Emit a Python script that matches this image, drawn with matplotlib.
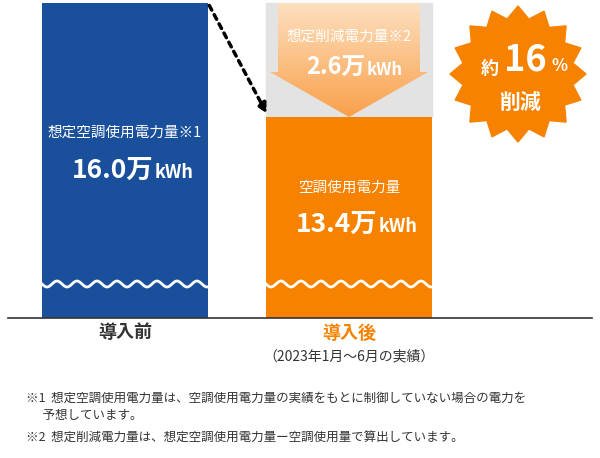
import numpy as np
import matplotlib
matplotlib.use('Agg')
import matplotlib.pyplot as plt
from matplotlib.patches import Polygon, Rectangle

plt.rcParams['font.family'] = ['Noto Sans CJK JP', 'DejaVu Sans']

# data
labels = ['導入前', '導入後']
values = [16.0, 13.4]          # 万kWh
reduction = 2.6                 # 万kWh
pct = 16
note_period = '（2023年1月～6月の実績）'
notes = ['※1  想定空調使用電力量は、空調使用電力量の実績をもとに制御していない場合の電力を',
         '      予想しています。',
         '※2  想定削減電力量は、想定空調使用電力量ー空調使用量で算出しています。']

blue = '#1a4f9c'
orange = '#f78200'

fig = plt.figure(figsize=(6, 4.58), dpi=100)
ax = fig.add_axes([0, 0, 1, 1])
ax.set_xlim(0, 600)
ax.set_ylim(458, 0)
ax.axis('off')

base = 318
# visual heights (infographic not to scale)
tops = [3, 117]
xs = [125, 349]
w = 166
ax.bar(xs, [base - t for t in tops], bottom=tops, width=w,
       color=[blue, orange], zorder=2)
# gray "expected" area behind the after bar
ax.add_patch(Rectangle((xs[1] - w / 2, 3), w, tops[1] - 3, color='#e3e3e3', zorder=1))
ax.plot([8, 592], [base, base], color='#333333', lw=1.2, zorder=3)

# wave lines
for x in xs:
    xx = np.linspace(x - w / 2, x + w / 2, 200)
    ax.plot(xx, 284 + 3 * np.sin((xx - xx[0]) / 20 * 2 * np.pi), color='white', lw=2, zorder=3)

# gradient arrow
gx0, gx1 = xs[1] - w / 2, xs[1] + w / 2
arrow = Polygon([(gx0 + 12, 3), (gx1 - 12, 3), (gx1 - 12, 72), (gx1 - 4, 72),
                 (xs[1], 117), (gx0 + 4, 72), (gx0 + 12, 72)], closed=True,
                facecolor='none', edgecolor='none')
ax.add_patch(arrow)
grad = np.linspace(0, 1, 100)[:, None]
cmap = matplotlib.colors.LinearSegmentedColormap.from_list('g', ['#fde0c0', '#f9a04a'])
im = ax.imshow(grad, extent=(gx0, gx1, 117, 3), cmap=cmap, aspect='auto', zorder=2)
im.set_clip_path(arrow)
ax.set_xlim(0, 600)
ax.set_ylim(458, 0)

# dotted arrow
ax.annotate('', xy=(268, 116), xytext=(208, 3),
            arrowprops=dict(arrowstyle='-|>', linestyle=(0, (1.5, 1.5)), lw=2.5, color='black',
                            mutation_scale=14), zorder=4)

# bar texts
ax.text(xs[0], 133, '想定空調使用電力量※1', color='white', fontsize=10.5, ha='center', va='center', zorder=5)
ax.text(xs[0] + 28, 170, f'{values[0]:.1f}万', color='white', fontsize=19, fontweight='bold',
        ha='right', va='center', zorder=5)
ax.text(xs[0] + 30, 172, 'kWh', color='white', fontsize=13, fontweight='bold', ha='left', va='center', zorder=5)
ax.text(xs[1], 188, '空調使用電力量', color='white', fontsize=10.5, ha='center', va='center', zorder=5)
ax.text(xs[1] + 28, 224, f'{values[1]:.1f}万', color='white', fontsize=19, fontweight='bold',
        ha='right', va='center', zorder=5)
ax.text(xs[1] + 30, 226, 'kWh', color='white', fontsize=13, fontweight='bold', ha='left', va='center', zorder=5)
ax.text(xs[1], 37, '想定削減電力量※2', color='white', fontsize=10.5, ha='center', va='center', zorder=5)
ax.text(xs[1] + 16, 68, f'{reduction:.1f}万', color='white', fontsize=17, fontweight='bold',
        ha='right', va='center', zorder=5)
ax.text(xs[1] + 18, 70, 'kWh', color='white', fontsize=12, fontweight='bold', ha='left', va='center', zorder=5)

# starburst
cx, cy, ro, ri, n = 518, 74, 68, 56, 16
ang = np.linspace(0, 2 * np.pi, 2 * n, endpoint=False) - np.pi / 2
r = np.where(np.arange(2 * n) % 2 == 0, ro, ri)
ax.add_patch(Polygon(np.c_[cx + r * np.cos(ang), cy + r * np.sin(ang)], color=orange, zorder=3))
ax.text(490, 68, '約', color='white', fontsize=13, fontweight='bold', ha='center', va='center', zorder=5)
ax.text(525, 60, f'{pct}', color='white', fontsize=26, fontweight='bold', ha='center', va='center', zorder=5)
ax.text(560, 66, '%', color='white', fontsize=12, fontweight='bold', ha='center', va='center', zorder=5)
ax.text(520, 102, '削減', color='white', fontsize=15, fontweight='bold', ha='center', va='center', zorder=5)

# labels below
ax.text(xs[0], 333, labels[0], fontsize=13, fontweight='bold', color='#333333', ha='center', va='center')
ax.text(xs[1], 333, labels[1], fontsize=13, fontweight='bold', color=orange, ha='center', va='center')
ax.text(xs[1], 356, note_period, fontsize=10, color='#333333', ha='center', va='center')

for y, t in zip([398, 416, 438], notes):
    ax.text(26, y, t, fontsize=9, color='#333333', ha='left', va='center')

fig.savefig('out.png', dpi=100)
